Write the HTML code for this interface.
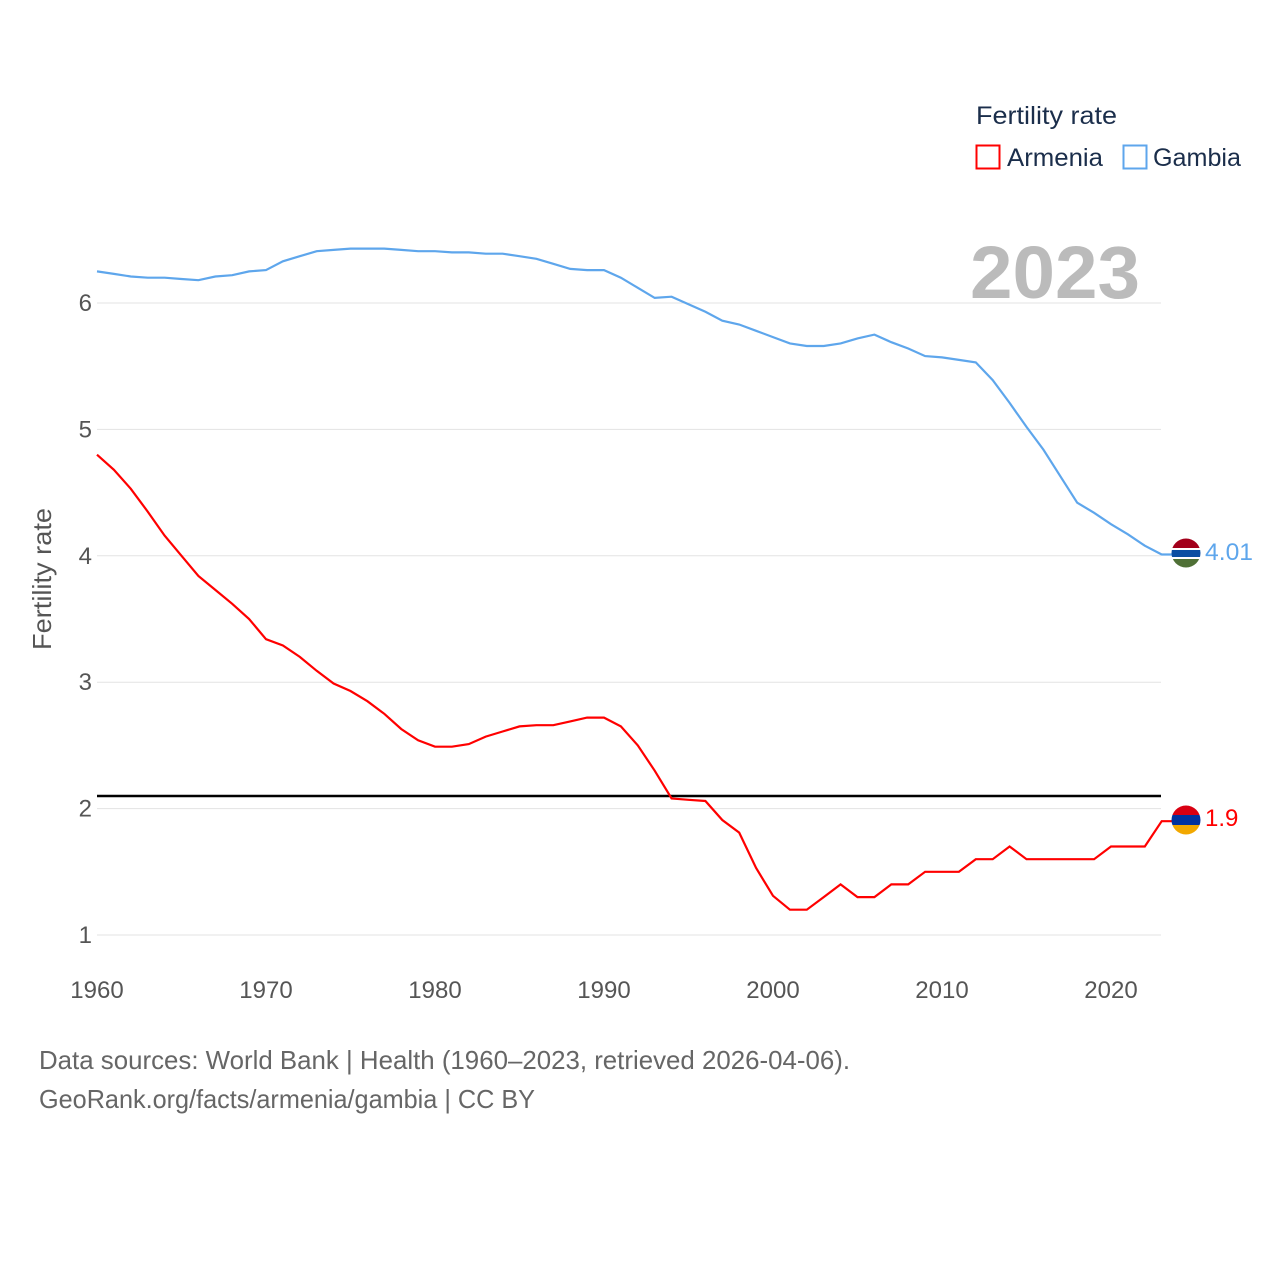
<!DOCTYPE html>
<html><head><meta charset="utf-8"><style>
body{margin:0;background:#fff;}
svg text{font-family:"Liberation Sans",sans-serif;}
</style></head><body>
<svg id="chart" width="1280" height="1280" xmlns="http://www.w3.org/2000/svg">
<defs>
<clipPath id="cg"><circle cx="1186" cy="553" r="14.5"/></clipPath>
<clipPath id="ca"><circle cx="1186" cy="820" r="14.5"/></clipPath>
</defs>
<g id="grid"></g>
<g id="yticks"></g>
<g id="xticks"></g>
<text transform="translate(51,579) rotate(-90)" text-anchor="middle" font-size="26" fill="#555" textLength="142" lengthAdjust="spacingAndGlyphs">Fertility rate</text>
<text x="970" y="298" font-size="74" font-weight="bold" fill="#bbb" textLength="170" lengthAdjust="spacingAndGlyphs">2023</text>
<line id="refline" x1="97" x2="1161" stroke="#000" stroke-width="2.5"/>
<path id="gam" fill="none" stroke="#5ea6ec" stroke-width="2.2"/>
<path id="arm" fill="none" stroke="#ff0000" stroke-width="2.2"/>
<g clip-path="url(#cg)">
<rect x="1170" y="537" width="32" height="11" fill="#a3001b"/><rect x="1170" y="548" width="32" height="2" fill="#fff"/>
<rect x="1170" y="550" width="32" height="7" fill="#0b4ea2"/><rect x="1170" y="557" width="32" height="2" fill="#fff"/>
<rect x="1170" y="559" width="32" height="11" fill="#4f7036"/></g>
<g clip-path="url(#ca)">
<rect x="1170" y="804" width="32" height="11" fill="#d90012"/><rect x="1170" y="815" width="32" height="10" fill="#0033a0"/>
<rect x="1170" y="825" width="32" height="11" fill="#f2a800"/></g>
<text x="1205" y="560" font-size="24" fill="#5ea6ec" textLength="48" lengthAdjust="spacingAndGlyphs">4.01</text>
<text x="1205" y="826" font-size="24" fill="#ff0000">1.9</text>
<text x="976" y="124" font-size="25" fill="#1b2e4b" textLength="141" lengthAdjust="spacingAndGlyphs">Fertility rate</text>
<g><rect x="976.5" y="145.5" width="23" height="23" fill="none" stroke="#ff0000" stroke-width="2"/>
<text x="1007" y="166" font-size="25" fill="#1b2e4b" textLength="96" lengthAdjust="spacingAndGlyphs">Armenia</text></g>
<g><rect x="1123.5" y="145.5" width="23" height="23" fill="none" stroke="#5ea6ec" stroke-width="2"/>
<text x="1153" y="166" font-size="25" fill="#1b2e4b" textLength="88" lengthAdjust="spacingAndGlyphs">Gambia</text></g>
<text x="39" y="1069" font-size="26" fill="#666" textLength="811" lengthAdjust="spacingAndGlyphs">Data sources: World Bank | Health (1960–2023, retrieved 2026-04-06).</text>
<text x="39" y="1108" font-size="26" fill="#666" textLength="496" lengthAdjust="spacingAndGlyphs">GeoRank.org/facts/armenia/gambia | CC BY</text>
</svg>
<script>
const years = [];
for (let y = 1960; y <= 2023; y++) years.push(y);
const armenia = [4.80,4.68,4.53,4.35,4.16,4.00,3.84,3.73,3.62,3.50,3.34,3.29,3.20,3.09,2.99,2.93,2.85,2.75,2.63,2.54,2.49,2.49,2.51,2.57,2.61,2.65,2.66,2.66,2.69,2.72,2.72,2.65,2.50,2.30,2.08,2.07,2.06,1.91,1.81,1.53,1.31,1.2,1.2,1.3,1.4,1.3,1.3,1.4,1.4,1.5,1.5,1.5,1.6,1.6,1.7,1.6,1.6,1.6,1.6,1.6,1.7,1.7,1.7,1.9];
const gambia = [6.25,6.23,6.21,6.20,6.20,6.19,6.18,6.21,6.22,6.25,6.26,6.33,6.37,6.41,6.42,6.43,6.43,6.43,6.42,6.41,6.41,6.40,6.40,6.39,6.39,6.37,6.35,6.31,6.27,6.26,6.26,6.20,6.12,6.04,6.05,5.99,5.93,5.86,5.83,5.78,5.73,5.68,5.66,5.66,5.68,5.72,5.75,5.69,5.64,5.58,5.57,5.55,5.53,5.39,5.21,5.02,4.84,4.63,4.42,4.34,4.25,4.17,4.08,4.01];
const yTicks = [1,2,3,4,5,6];
const xTicks = [1960,1970,1980,1990,2000,2010,2020];
const refValue = 2.1;
const x = v => 97 + (v - 1960) * 16.9;
const y = v => 935 - (v - 1) * 126.4;
const NS = "http://www.w3.org/2000/svg";
function mk(tag, attrs, parent){const e=document.createElementNS(NS,tag);for(const k in attrs)e.setAttribute(k,attrs[k]);parent.appendChild(e);return e;}
const grid=document.getElementById('grid'), yt=document.getElementById('yticks'), xt=document.getElementById('xticks');
yTicks.forEach(v=>{
  const l=mk('line',{x1:97,x2:1161,y1:y(v),y2:y(v),stroke:'#e3e3e3','stroke-width':1},grid);
  
  
  const t=mk('text',{x:92,y:y(v)+8,'text-anchor':'end','font-size':24,fill:'#555'},yt);
  t.textContent=v;
  
  
});
xTicks.forEach(v=>{
  const t=mk('text',{x:x(v),y:998,'text-anchor':'middle','font-size':24,fill:'#555'},xt);
  t.textContent=v;
  
  
});
const rl=document.getElementById('refline');
rl.setAttribute('y1',y(refValue));rl.setAttribute('y2',y(refValue));
const pathOf=arr=>arr.map((v,i)=>(i?'L':'M')+x(years[i]).toFixed(1)+','+y(v).toFixed(1)).join(' ');
document.getElementById('arm').setAttribute('d',pathOf(armenia)+' L1172,'+y(armenia[armenia.length-1]).toFixed(1));
document.getElementById('gam').setAttribute('d',pathOf(gambia)+' L1172,'+y(gambia[gambia.length-1]).toFixed(1));
</script>
</body></html>
